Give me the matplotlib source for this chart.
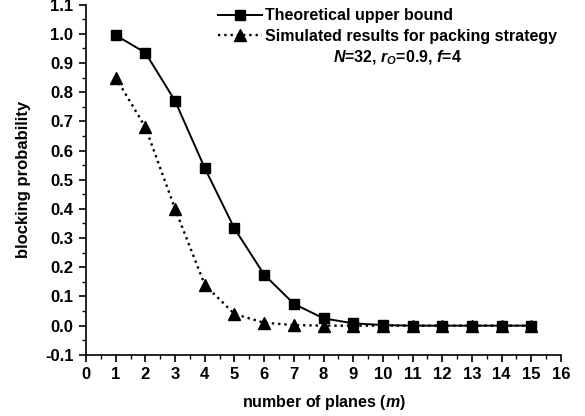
import matplotlib
matplotlib.use("Agg")
import matplotlib.pyplot as plt
from matplotlib.ticker import MultipleLocator

plt.rcParams['font.family'] = ['Liberation Sans', 'DejaVu Sans']
plt.rcParams['font.weight'] = 'bold'
plt.rcParams['mathtext.fontset'] = 'custom'
plt.rcParams['mathtext.rm'] = 'Liberation Sans:bold'
plt.rcParams['mathtext.it'] = 'Liberation Sans:bold:italic'
plt.rcParams['mathtext.bf'] = 'Liberation Sans:bold'

m = list(range(1, 16))
theoretical = [0.995, 0.935, 0.77, 0.54, 0.333, 0.175, 0.075, 0.025, 0.008, 0.002, 0.0, 0.0, 0.0, 0.0, 0.0]
simulated = [0.85, 0.68, 0.40, 0.14, 0.04, 0.01, 0.002, 0.0, 0.0, 0.0, 0.0, 0.0, 0.0, 0.0, 0.0]
yticks = [-0.1, 0.0, 0.1, 0.2, 0.3, 0.4, 0.5, 0.6, 0.7, 0.8, 0.9, 1.0, 1.1]

fig = plt.figure(figsize=(5.85, 4.16), dpi=100)
ax = fig.add_axes([0.147, 0.147, 0.812, 0.842])

ax.plot(m, theoretical, '-', color='black', marker='s', markersize=7.5, linewidth=1.4,
        label='Theoretical upper bound')
ax.plot(m, simulated, ':', color='black', marker='^', markersize=8.5, linewidth=1.7,
        label='Simulated results for packing strategy')

ax.set_xlim(0, 16)
ax.set_ylim(-0.1, 1.1)
ax.xaxis.set_major_locator(MultipleLocator(1))
ax.xaxis.set_minor_locator(MultipleLocator(0.5))
ax.yaxis.set_minor_locator(MultipleLocator(0.05))
ax.set_yticks(yticks)
ax.set_yticklabels([f"{v:.1f}" for v in yticks])

for s in ['top', 'right']:
    ax.spines[s].set_visible(False)
for s in ['left', 'bottom']:
    ax.spines[s].set_linewidth(1.2)
ax.tick_params(which='major', direction='out', length=5, width=1.2, labelsize=12, pad=4)
ax.tick_params(which='minor', direction='out', length=3, width=1.0)
for lbl in ax.get_xticklabels() + ax.get_yticklabels():
    lbl.set_fontweight('bold')

ax.set_xlabel('number of planes ($\\it{m}$)', fontsize=11.5, fontweight='bold', labelpad=8)
ax.set_ylabel('blocking probability', fontsize=12, fontweight='bold', labelpad=10)

leg = ax.legend(loc='upper right', bbox_to_anchor=(1.006, 1.008), frameon=False,
                fontsize=11.5, handlelength=2.8, handletextpad=0.2, labelspacing=0.35,
                borderaxespad=0)
for t in leg.get_texts():
    t.set_fontweight('bold')

ax.text(0.655, 0.847, '$\\it{N}$=32, $\\it{r}_{\\it{O}}$=0.9, $\\it{f}$=4', transform=ax.transAxes,
        ha='center', va='center', fontsize=11.5, fontweight='bold')

fig.savefig('out.png', dpi=100)
